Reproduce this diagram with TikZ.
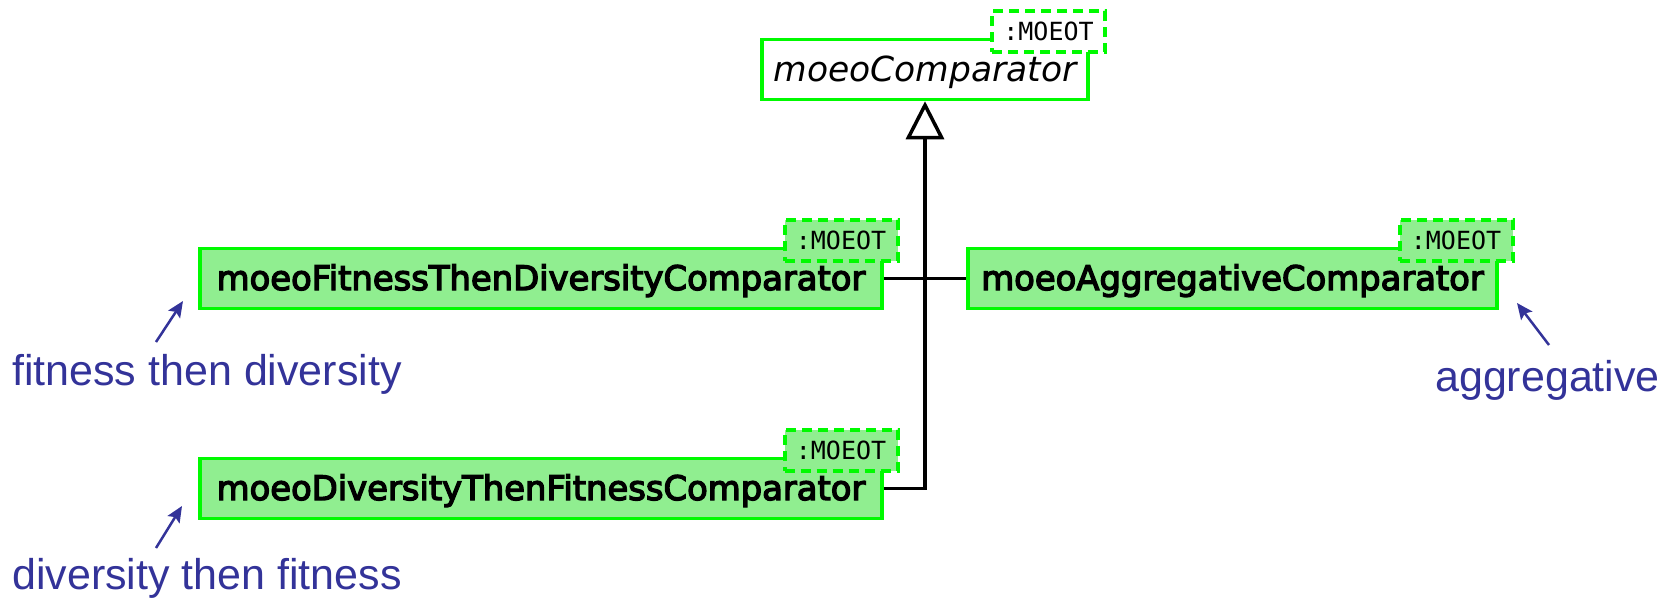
\documentclass[tikz,border=0pt]{standalone}
\usepackage{fontspec}
\usetikzlibrary{arrows.meta}
\newfontfamily\boxfont{DejaVu Sans}
\newfontfamily\clsfont{DejaVu Sans}[FakeBold=4]
\newfontfamily\tplfont{DejaVu Sans Mono}
\newfontfamily\annfont{Liberation Sans}
\definecolor{umlgreen}{RGB}{0,250,0}
\definecolor{umlfill}{RGB}{144,238,144}
\definecolor{annblue}{RGB}{51,51,153}
\tikzset{
  cls/.style={draw=umlgreen, line width=3.5pt, fill=umlfill, inner sep=0pt, minimum height=60pt,
    text height=30pt, text depth=7pt,
    font=\clsfont\fontsize{33.8}{40}\selectfont},
  abscls/.style={cls, fill=white, text height=31pt, text depth=7pt,
    font=\boxfont\itshape\fontsize{34.5}{40}\selectfont},
  tpl/.style={draw=umlgreen, line width=4pt, dash pattern=on 10pt off 6pt, fill=umlfill, inner sep=0pt,
    minimum width=113pt, minimum height=41pt, font=\tplfont\fontsize{25}{30}\selectfont},
  conn/.style={draw=black, line width=3.5pt},
  ann/.style={font=\annfont\fontsize{43}{50}\selectfont, text=annblue, inner sep=0pt, anchor=base west},
  annarrow/.style={draw=annblue, line width=2.5pt, -{Stealth[length=16pt,width=14pt,inset=3pt]}}
}
\begin{document}
\begin{tikzpicture}[x=1pt,y=-1pt]
\useasboundingbox (0,0) rectangle (1675,598);
% classes
\node[abscls, minimum width=326pt] (cmp) at (925,69.5) {moeoComparator};
\node[tpl, fill=white] (cmpt) at (1048.5,31.5) {:MOEOT};
\node[cls, minimum width=682pt] (fit) at (541,278.5) {moeoFitnessThenDiversityComparator};
\node[tpl] (fitt) at (841,240.5) {:MOEOT};
\node[cls, minimum width=529pt] (agg) at (1232.5,278.5) {moeoAggregativeComparator};
\node[tpl] (aggt) at (1456,240.5) {:MOEOT};
\node[cls, minimum width=682pt] (div) at (541,488.5) {moeoDiversityThenFitnessComparator};
\node[tpl] (divt) at (841,450.5) {:MOEOT};
% connectors
\draw[conn, -{Triangle[open,length=38pt,width=38pt,line width=3.5pt]}] (div.east) -| (cmp.south);
\draw[conn] (fit.east) -- (agg.west);
% annotations
\node[ann] (a1) at (12,385) {fitness then diversity};
\node[ann] (a2) at (12,589) {diversity then fitness};
\node[ann] (a3) at (1435,391) {aggregative};
\coordinate (a1t) at (156,342); \coordinate (a1h) at (183,301);
\coordinate (a2t) at (156,548); \coordinate (a2h) at (182,506);
\coordinate (a3t) at (1549,345); \coordinate (a3h) at (1517,303);
\draw[annarrow] (a1t) -- (a1h);
\draw[annarrow] (a2t) -- (a2h);
\draw[annarrow] (a3t) -- (a3h);
\end{tikzpicture}
\end{document}
